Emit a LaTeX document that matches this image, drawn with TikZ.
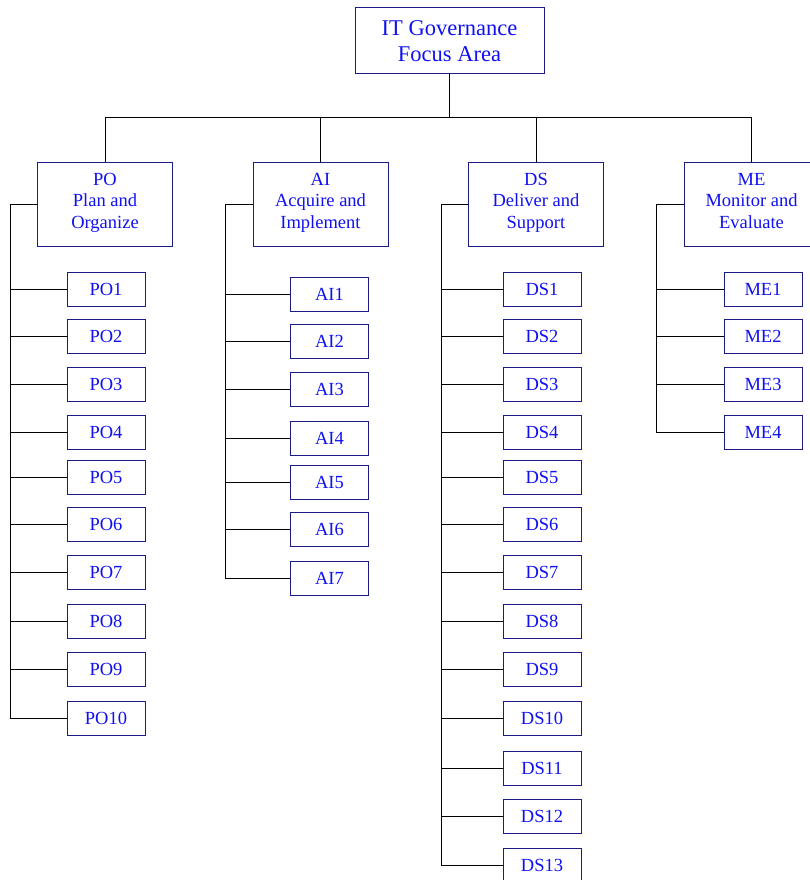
\documentclass[tikz,border=0pt]{standalone}
\usepackage{fontspec}
\setmainfont{Liberation Serif}
\usepackage{tikz}
\usetikzlibrary{positioning,calc}
\usepackage{xcolor}
\definecolor{govtext}{HTML}{1010F0}
\definecolor{govedge}{HTML}{1A1A88}
\tikzset{
  rootbox/.style={
    draw=govedge,
    line width=1pt,
    text=govtext,
    minimum width=189pt,
    minimum height=66pt,
    align=center,
    font=\fontsize{22.5}{26.5}\selectfont
  },
  areabox/.style={
    draw=govedge,
    line width=1pt,
    text=govtext,
    minimum width=135pt,
    minimum height=84pt,
    align=center,
    execute at begin node=\strut,
    execute at end node=\strut,
    font=\fontsize{18.5}{21.5}\selectfont
  },
  procbox/.style={
    draw=govedge,
    line width=1pt,
    text=govtext,
    minimum width=78pt,
    minimum height=34pt,
    inner sep=0pt,
    font=\fontsize{18.5}{21.5}\selectfont
  },
  link/.style={
    line width=0.9pt,
    draw=black
  }
}

\begin{document}
\begin{tikzpicture}[x=1pt,y=-1pt]
\useasboundingbox (0,0) rectangle (809,880);
\node[rootbox] (it) at (449.5,41) {IT Governance\\Focus Area};
\node[areabox] (po) at (105,204) {PO\\Plan and\\Organize};
\node[areabox] (ai) at (320.5,204) {AI\\Acquire and\\Implement};
\node[areabox] (ds) at (536,204) {DS\\Deliver and\\Support};
\node[areabox] (me) at (751.5,204) {ME\\Monitor and\\Evaluate};
\coordinate (bus) at (449.5,117.5);
\draw[link] (it.south) -- (bus);
\foreach \a in {po,ai,ds,me} {
  \draw[link] (\a.north) |- (bus);
}
% process boxes
\foreach \n/\y in {1/289,2/336,3/384,4/432.5,5/477.5,6/524.5,7/572.5,8/621,9/669.5,10/718} {
  \node[procbox] (po\n) at (106,\y) {PO\n};
  \draw[link] (po.west) -- ++(-27,0) |- (po\n.west);
}
\foreach \n/\y in {1/294.5,2/341.5,3/389.5,4/438,5/482.5,6/529.5,7/578} {
  \node[procbox] (ai\n) at (329.5,\y) {AI\n};
  \draw[link] (ai.west) -- ++(-27,0) |- (ai\n.west);
}
\foreach \n/\y in {1/289,2/336,3/384,4/432.5,5/477.5,6/524.5,7/572.5,8/621,9/669.5,10/718,11/768,12/816,13/865} {
  \node[procbox] (ds\n) at (542,\y) {DS\n};
  \draw[link] (ds.west) -- ++(-27,0) |- (ds\n.west);
}
\foreach \n/\y in {1/289,2/336,3/384,4/432.5} {
  \node[procbox] (me\n) at (763,\y) {ME\n};
  \draw[link] (me.west) -- ++(-27,0) |- (me\n.west);
}
\end{tikzpicture}
\end{document}
